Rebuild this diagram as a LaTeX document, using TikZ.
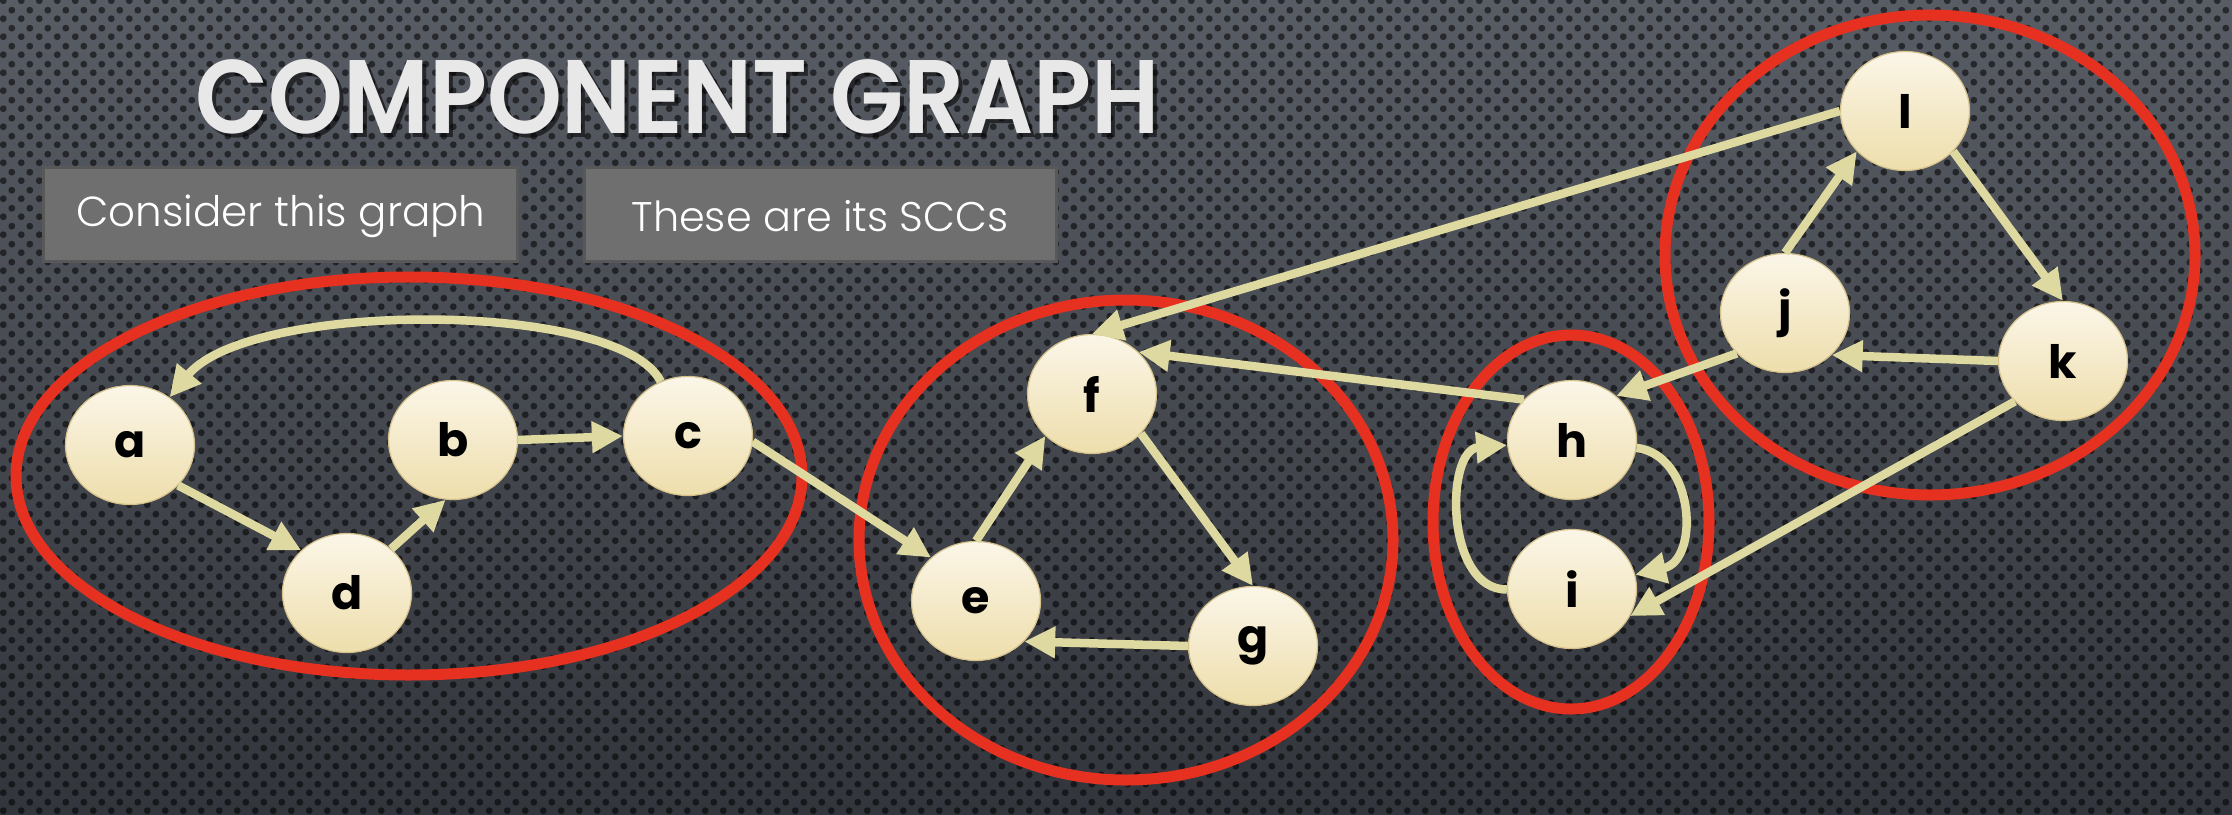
\documentclass[tikz,border=0pt]{standalone}
\usepackage{fontspec}
\usepackage{graphicx}
\usetikzlibrary{arrows.meta,shapes.geometric,patterns.meta}

\newfontfamily\titlefont{Poppins}
\newfontfamily\headfont{Poppins SemiBold}
\newfontfamily\lightfont{Poppins Light}

\definecolor{bgtop}{RGB}{88,92,100}
\definecolor{bgbot}{RGB}{50,53,59}
\definecolor{nodetop}{RGB}{251,246,232}
\definecolor{nodebot}{RGB}{238,222,172}
\definecolor{nodeline}{RGB}{212,192,138}
\definecolor{edgecol}{RGB}{221,217,160}
\definecolor{sccred}{RGB}{230,48,32}
\definecolor{boxfill}{RGB}{111,111,111}
\definecolor{boxline}{RGB}{88,88,88}
\definecolor{titlecol}{RGB}{232,232,232}

% staggered perforation dots
\pgfdeclarepattern{
  name=perfdots,
  type=uncolored,
  bottom left={\pgfpoint{0pt}{0pt}},
  top right={\pgfpoint{18pt}{18pt}},
  tile size={\pgfpoint{18pt}{18pt}},
  code={
    \pgfpathcircle{\pgfpoint{4.5pt}{4.5pt}}{3.6pt}
    \pgfpathcircle{\pgfpoint{13.5pt}{13.5pt}}{3.6pt}
    \pgfusepath{fill}
  }
}

\tikzset{
  vtx/.style={ellipse, minimum width=129pt, minimum height=119pt, inner sep=0pt,
    draw=nodeline, line width=1.2pt, top color=nodetop, bottom color=nodebot,
    font=\titlefont\bfseries\fontsize{46}{50}\selectfont, text=black},
  conn/.style={draw=edgecol, line width=8.5pt,
    -{Triangle[length=31pt,width=30pt]}},
  sccring/.style={draw=sccred, line width=11pt},
  infobox/.style={draw=boxline, line width=3pt, fill=boxfill},
}

\begin{document}
\begin{tikzpicture}[x=1pt,y=-1pt]
\useasboundingbox (0,0) rectangle (2232,814);

% perforated metal backdrop
\fill[top color=bgtop, bottom color=bgbot] (0,0) rectangle (2232,814);
\fill[pattern=perfdots, pattern color=black, fill opacity=0.55] (0,0) rectangle (2232,814);

% heading
\node[anchor=south west, inner sep=0pt, text=black, opacity=0.55] (titleshadow) at (199,138)
  {\resizebox{964pt}{74pt}{\headfont COMPONENT GRAPH}};
\node[anchor=south west, inner sep=0pt, text=titlecol] (title) at (195,134)
  {\resizebox{964pt}{74pt}{\headfont COMPONENT GRAPH}};

% caption boxes
\fill[infobox] (43,167) rectangle (517,261);
\node[text=white, inner sep=0pt] (cap1) at (281,216)
  {\resizebox{409pt}{!}{\lightfont Consider this graph}};
\fill[infobox] (584,167) rectangle (1056,261);
\node[text=white, inner sep=0pt] (cap2) at (820,216)
  {\resizebox{377pt}{!}{\lightfont These are its SCCs}};

% strongly connected components
\draw[sccring] (409,476) ellipse [x radius=393, y radius=199];
\draw[sccring] (1126,540) ellipse [x radius=267, y radius=240];
\draw[sccring] (1571,522) ellipse [x radius=138, y radius=187];
\draw[sccring] (1930,255) ellipse [x radius=265, y radius=240];

% vertices
\node[vtx] (a) at (130,445) {a};
\node[vtx] (b) at (453,440) {b};
\node[vtx] (c) at (688,436) {c};
\node[vtx] (d) at (347,593) {d};
\node[vtx] (e) at (976,601) {e};
\node[vtx] (f) at (1092,394) {f};
\node[vtx] (g) at (1253,646) {g};
\node[vtx] (h) at (1572,440) {h};
\node[vtx] (i) at (1572,589) {i};
\node[vtx] (j) at (1785,313) {j};
\node[vtx] (k) at (2063,361) {k};
\node[vtx] (l) at (1905,111) {l};

% edges
\draw[conn] (a.320) -- (d.137);
\draw[conn] (d.45) -- (b.263);
\draw[conn] (b.east) -- (c.west);
\draw[conn] (c) .. controls (620,300) and (250,300) .. (a);
\draw[conn] (c.355) -- (e.136);
\draw[conn] (e.north) -- (f.222);
\draw[conn] (f.321) -- (g.north);
\draw[conn] (g.west) -- (e.320);
\draw[conn] (l.west) -- (f.north);
\draw[conn] (h.140) -- (f.42);
\draw[conn] (j.220) -- (h.45);
\draw[conn] (k.west) -- (j.318);
\draw[conn] (j.north) -- (l.220);
\draw[conn] (l.320) -- (k.north);
\draw[conn] (k.220) -- (i.335);
\draw[conn] (h) .. controls (1695,455) and (1700,560) .. (i);
\draw[conn] (i) .. controls (1445,590) and (1445,450) .. (h);
\end{tikzpicture}
\end{document}
